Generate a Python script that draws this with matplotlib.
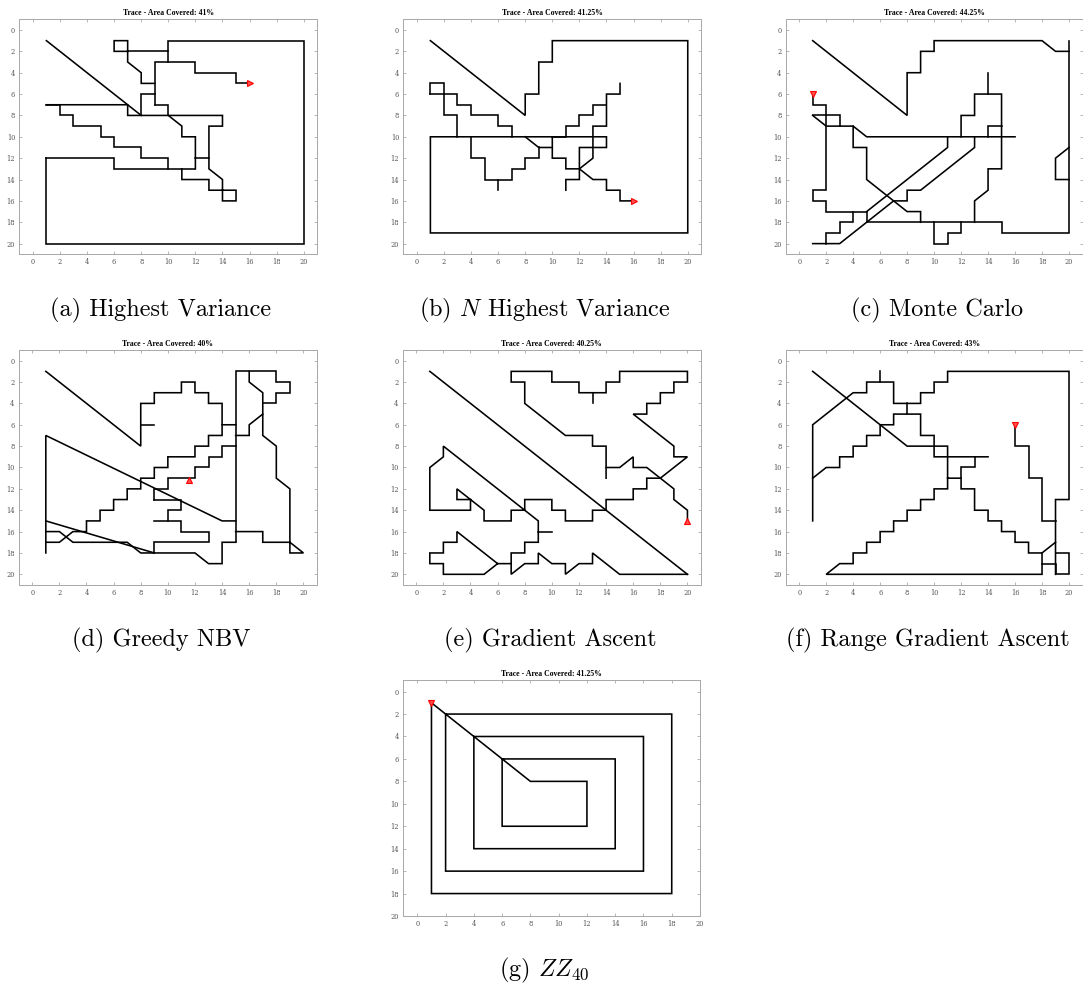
import matplotlib

matplotlib.use("Agg")
import matplotlib.pyplot as plt

plt.rcParams["mathtext.fontset"] = "cm"

W, H = 1083, 989

# ---- traces (grid cells, y grows downwards) ----
trace_a = [
    [(1, 1), (8, 8)],
    [(1, 7), (7, 7), (7, 8), (14, 8), (14, 9), (13, 9), (13, 13), (14, 14), (14, 16),
     (15, 16), (15, 15), (13, 15), (13, 14), (11, 14), (11, 13)],
    [(1, 7), (2, 7), (2, 8), (3, 8), (3, 9), (5, 9), (5, 10), (6, 10), (6, 11), (8, 11),
     (8, 12), (10, 12), (10, 13)],
    [(1, 12), (6, 12), (6, 13), (12, 13)],
    [(12, 12), (13, 12)],
    [(10, 8), (11, 9), (11, 10), (12, 10), (12, 13)],
    [(8, 8), (8, 6), (9, 6)],
    [(9, 7), (10, 7), (10, 8)],
    [(7, 2), (6, 2), (6, 1), (7, 1), (7, 3), (8, 4), (8, 5), (9, 5)],
    [(7, 2), (10, 2)],
    [(9, 7), (9, 3), (12, 3), (12, 4), (15, 4), (15, 5), (16, 5)],
    [(10, 3), (10, 1), (20, 1), (20, 20), (1, 20), (1, 12)],
]
trace_b = [
    [(1, 1), (8, 8), (8, 6), (9, 6), (9, 3), (10, 3), (10, 1), (20, 1), (20, 19), (1, 19),
     (1, 10), (14, 10), (14, 11), (12, 11), (12, 14), (11, 14), (11, 15)],
    [(1, 6), (1, 5), (2, 5), (2, 8), (3, 8), (3, 10)],
    [(1, 6), (3, 6), (3, 7), (4, 7), (4, 8), (6, 8), (6, 9), (7, 9), (7, 10)],
    [(8, 10), (9, 11), (10, 11)],
    [(10, 10), (10, 12), (11, 12), (11, 13), (12, 13), (13, 12), (13, 9), (14, 9), (14, 6),
     (15, 6), (15, 5)],
    [(12, 13), (13, 14), (14, 14), (14, 15), (15, 15), (15, 16), (16, 16)],
    [(10, 10), (11, 10), (11, 9), (12, 9), (12, 8), (13, 8), (13, 7), (14, 7)],
    [(4, 10), (4, 12), (5, 12), (5, 14), (7, 14), (7, 13), (8, 13), (8, 12), (9, 12), (9, 11)],
    [(6, 14), (6, 15)],
]
trace_c = [
    [(1, 1), (8, 8), (8, 4), (9, 4), (9, 2), (10, 2), (10, 1), (18, 1), (19, 2), (20, 2)],
    [(20, 1), (20, 19), (15, 19), (15, 18), (5, 18)],
    [(20, 11), (19, 12), (19, 14), (20, 14)],
    [(1, 6), (1, 7), (2, 7), (2, 15), (1, 15), (1, 16), (2, 16), (2, 17), (5, 17), (5, 18)],
    [(1, 8), (3, 8), (3, 9)],
    [(1, 8), (2, 9), (4, 9), (5, 10), (16, 10)],
    [(4, 9), (4, 11), (5, 11), (5, 14), (8, 17), (9, 17), (9, 18)],
    [(4, 17), (4, 18), (3, 18), (3, 19), (2, 19), (2, 20)],
    [(1, 20), (3, 20), (7, 16), (8, 16), (8, 15), (9, 15), (13, 11), (13, 10)],
    [(5, 17), (11, 11), (11, 10)],
    [(12, 10), (12, 8), (13, 8), (13, 6), (15, 6), (15, 13), (14, 13), (14, 15), (13, 16),
     (13, 18)],
    [(14, 4), (14, 6)],
    [(14, 10), (14, 9), (15, 9)],
    [(10, 18), (10, 20), (11, 20), (11, 19), (12, 19), (12, 18)],
]
trace_d = [
    [(1, 1), (8, 8), (8, 4), (9, 4), (9, 3), (11, 3), (11, 2), (12, 2), (12, 3), (13, 3),
     (13, 4), (14, 4), (14, 6), (15, 6)],
    [(8, 6), (9, 6)],
    [(15, 17), (15, 1), (18, 1), (18, 2), (19, 2), (19, 3), (18, 3), (18, 4), (17, 4)],
    [(16, 1), (16, 2), (17, 3), (17, 7), (18, 8), (18, 11), (19, 12), (19, 18), (20, 18),
     (19, 17), (17, 17), (17, 16), (15, 16)],
    [(17, 5), (16, 6), (16, 7), (15, 7)],
    [(1, 18), (1, 7), (14, 15), (15, 15)],
    [(1, 15), (9, 18)],
    [(1, 16), (2, 16), (3, 17), (7, 17), (8, 18), (12, 18), (13, 19), (14, 19), (14, 17),
     (15, 17)],
    [(1, 17), (2, 17), (3, 16), (4, 16), (4, 15), (5, 15), (5, 14), (6, 14), (6, 13), (7, 13),
     (7, 12), (8, 12), (8, 11), (9, 11), (9, 10), (10, 10), (10, 9), (12, 9), (12, 8),
     (13, 8), (13, 7), (14, 7), (14, 6)],
    [(9, 13), (9, 12), (10, 12), (10, 11), (12, 11), (12, 10), (13, 10), (13, 9), (14, 9),
     (14, 8), (15, 8)],
    [(9, 13), (11, 13), (11, 14), (10, 14), (10, 15)],
    [(9, 15), (11, 15), (11, 16), (13, 16), (13, 17), (9, 17), (9, 18)],
]
trace_e = [
    [(1, 1), (20, 20)],
    [(20, 15), (20, 14), (19, 13), (19, 12), (17, 10), (16, 10), (16, 9), (15, 10), (14, 10)],
    [(14, 11), (14, 8), (13, 8), (13, 7), (11, 7), (8, 4), (8, 2), (7, 2), (7, 1), (10, 1),
     (10, 2), (12, 2), (12, 3), (14, 3), (14, 2), (15, 2), (15, 1), (20, 1), (20, 2), (19, 2),
     (19, 3), (18, 3), (18, 4), (17, 4), (17, 5), (16, 5), (19, 8), (19, 9), (20, 9),
     (18, 11), (17, 11), (17, 12), (16, 12), (16, 13), (14, 13), (14, 14), (13, 14), (13, 15),
     (11, 15), (11, 14), (10, 14), (10, 13), (8, 13), (8, 14), (7, 14), (7, 15), (5, 15),
     (5, 14), (3, 12), (3, 13), (4, 13), (4, 14), (1, 14), (1, 10), (2, 9), (2, 8), (9, 15),
     (9, 17), (8, 17), (8, 18), (7, 18), (7, 19), (6, 19), (3, 16), (3, 17), (2, 17), (2, 18),
     (1, 18), (1, 19), (2, 19), (2, 20), (5, 20), (6, 19)],
    [(7, 19), (7, 20), (8, 19), (9, 19), (9, 18), (10, 19), (11, 19), (11, 20), (12, 19),
     (13, 19), (13, 18), (15, 20), (20, 20)],
    [(13, 3), (13, 4)],
    [(9, 16), (10, 16)],
]
trace_f = [
    [(1, 1), (8, 8), (11, 8), (11, 12), (10, 12), (10, 13), (9, 13), (9, 14), (8, 14), (8, 15),
     (7, 15), (7, 16), (6, 16), (6, 17), (5, 17), (5, 18), (4, 18), (4, 19), (3, 19), (2, 20),
     (18, 20), (18, 18), (17, 18), (17, 17), (16, 17), (16, 16), (15, 16), (15, 15), (14, 15),
     (14, 14), (13, 14), (13, 12), (12, 12), (12, 11), (11, 11)],
    [(18, 18), (19, 17)],
    [(16, 6), (16, 8), (17, 8), (17, 11), (18, 11), (18, 15), (19, 15)],
    [(18, 19), (19, 19), (19, 20), (20, 20), (20, 18), (19, 18)],
    [(19, 20), (19, 13), (20, 13), (20, 1), (11, 1), (11, 2), (10, 2), (10, 3), (9, 3), (9, 4),
     (7, 4), (7, 2), (5, 2), (5, 3), (4, 3), (1, 6), (1, 15)],
    [(1, 11), (2, 10), (3, 10), (3, 9), (4, 9), (4, 8), (5, 8), (5, 7), (6, 7), (6, 6), (7, 6),
     (7, 5), (9, 5), (9, 7), (10, 7), (10, 9), (14, 9)],
    [(13, 9), (13, 10), (12, 10), (12, 11)],
    [(6, 1), (6, 2)],
    [(8, 4), (8, 5)],
]
trace_g = [
    [(1, 1), (8, 8), (12, 8), (12, 12), (6, 12), (6, 6), (14, 6), (14, 14), (4, 14), (4, 4),
     (16, 4), (16, 16), (2, 16), (2, 2), (18, 2), (18, 18), (1, 18), (1, 1)],
]

traces = [trace_a, trace_b, trace_c, trace_d, trace_e, trace_f, trace_g]
robot_pos = [(16, 5), (16, 16), (1, 6), (11.55, 11.15), (20, 15), (16, 6), (1, 1)]
robot_marker = [">", ">", "v", "^", "^", "v", "v"]
coverage = ["41%", "41.25%", "44.25%", "40%", "40.25%", "43%", "41.25%"]
captions = ["(a) Highest Variance", "(b) $N$ Highest Variance", "(c) Monte Carlo",
            "(d) Greedy NBV", "(e) Gradient Ascent", "(f) Range Gradient Ascent",
            "(g) $ZZ_{40}$"]

# axes boxes in pixels: left, top, right, bottom
boxes = [
    (19.3, 19.3, 317.3, 254.3), (403.3, 19.3, 701.3, 254.3), (785.7, 19.3, 1082.5, 254.3),
    (18.7, 350, 317, 585), (402.7, 350, 701, 585), (785.7, 350, 1082.5, 585),
    (403.2, 680.4, 700, 916),
]
limits = [(21, 21)] * 6 + [(20, 20)]
caption_xy = [(161, 310), (545, 310), (937, 310), (161, 640), (550, 640), (928, 640),
              (544, 970)]

fig = plt.figure(figsize=(W / 100, H / 100), dpi=100)

for i, trace in enumerate(traces):
    l, t, r, b = boxes[i]
    ax = fig.add_axes([l / W, 1 - b / H, (r - l) / W, (b - t) / H])
    for seg in trace:
        xs = [p[0] for p in seg]
        ys = [p[1] for p in seg]
        ax.plot(xs, ys, color="black", lw=1.15, solid_joinstyle="miter")
    ax.plot(*robot_pos[i], marker=robot_marker[i], ms=5, mfc="#ff5050", mec="red", mew=0.8)
    xmax, ymax = limits[i]
    ax.set_xlim(-1, xmax)
    ax.set_ylim(ymax, -1)
    ax.set_xticks(range(0, 21, 2))
    ax.set_yticks(range(0, 21, 2))
    ax.tick_params(direction="in", length=2.5, width=0.5, color="#999999", labelsize=4.8,
                   labelcolor="#555555", top=True, right=True, pad=3)
    for lab in ax.get_xticklabels() + ax.get_yticklabels():
        lab.set_family("DejaVu Serif")
    for sp in ax.spines.values():
        sp.set_color("#a8a8a8")
        sp.set_linewidth(0.7)
    ax.set_title(f"Trace - Area Covered: {coverage[i]}", fontsize=5.6, fontweight="bold",
                 family="Liberation Serif", pad=3)
    cx, cy = caption_xy[i]
    fig.text(cx / W, 1 - cy / H, captions[i], ha="center", va="center", fontsize=17.5,
             family="cmr10")

fig.savefig("out.png", dpi=100)
